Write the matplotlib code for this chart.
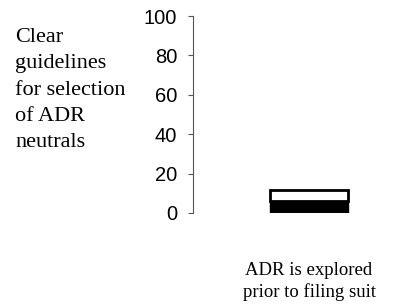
import matplotlib
matplotlib.use('Agg')
import matplotlib.pyplot as plt

# data
categories = ['ADR is explored\nprior to filing suit']
bottom_vals = [6.3]   # black segment
top_vals = [5.3]      # white segment
y_ticks = [0, 20, 40, 60, 80, 100]
row_label = 'Clear\nguidelines\nfor selection\nof ADR\nneutrals'

fig = plt.figure(figsize=(3.98, 3.07), dpi=100)
ax = fig.add_axes([193 / 398, 94 / 307, 205 / 398, 197 / 307])

x = list(range(len(categories)))
ax.bar(x, bottom_vals, width=0.8, color='black', edgecolor='black', linewidth=1.0)
ax.bar(x, top_vals, width=0.8, bottom=bottom_vals, color='white',
       edgecolor='black', linewidth=2.0)

ax.set_xlim(-1.19, 0.913)
ax.set_ylim(0, 100)
ax.set_yticks(y_ticks)
ax.set_yticklabels([str(v) for v in y_ticks], family='Liberation Sans', fontsize=14.5)
ax.tick_params(axis='y', length=3.5, width=0.8, pad=8, color='#555555')
ax.set_xticks([])
for s in ['top', 'right', 'bottom']:
    ax.spines[s].set_visible(False)
ax.spines['left'].set_color('#555555')
ax.spines['left'].set_linewidth(0.8)

for xi, lab in zip(x, categories):
    ax.text(xi, -0.25, lab, transform=ax.get_xaxis_transform(), ha='center', va='top',
            family='Liberation Serif', fontsize=13.5, linespacing=1.25)

fig.text(15 / 398, 1 - 28 / 307, row_label, ha='left', va='top',
         family='Liberation Serif', fontsize=16, linespacing=1.52)

fig.savefig('out.png', dpi=100)
